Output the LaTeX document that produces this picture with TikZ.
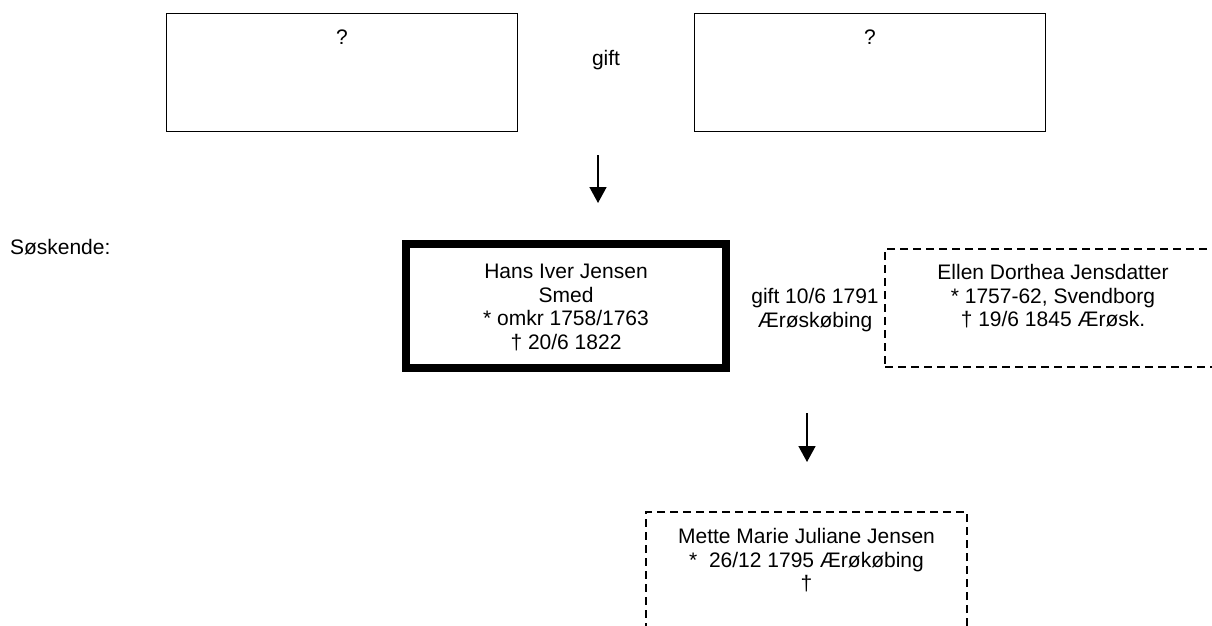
\documentclass[tikz,border=0pt]{standalone}
\usepackage{fontspec}
\setmainfont{Liberation Sans}
\usetikzlibrary{arrows.meta}
\tikzset{
  txt/.style={font=\fontsize{21}{23.5}\selectfont, align=center, inner sep=0pt, outer sep=0pt},
  thinbox/.style={draw, line width=1.6pt, inner sep=0pt, outer sep=0pt},
  thickbox/.style={draw, line width=8pt, inner sep=0pt, outer sep=0pt},
  dashbox/.style={draw, line width=1.6pt, dash pattern=on 8pt off 5pt, inner sep=0pt, outer sep=0pt},
  descarrow/.style={line width=1.6pt, -{Triangle[width=17pt,length=16pt]}}
}
\begin{document}
\begin{tikzpicture}[x=1pt,y=-1pt]
\useasboundingbox (0,0) rectangle (1212,626);
\clip (0,0) rectangle (1212,626);
\fill[white] (0,0) rectangle (1212,626);
% parents
\node[thinbox, minimum width=351pt, minimum height=118pt] (fa) at (342,72.5) {};
\node[txt, anchor=north] (fat) at (342,29.5) {?};
\node[thinbox, minimum width=351pt, minimum height=118pt] (mo) at (870,72.5) {};
\node[txt, anchor=north] (mot) at (870,29.5) {?};
\node[txt] (gift1) at (606,60) {gift};
% arrow 1
\coordinate (a1s) at (598,155);
\coordinate (a1e) at (598,203);
\draw[descarrow] (a1s) -- (a1e);
% siblings label
\node[txt, anchor=west] (sosk) at (10,247) {Søskende:};
% main person
\node[thickbox, minimum width=320pt, minimum height=124pt] (hans) at (566,306) {};
\node[txt, anchor=north] (hanst) at (566,264.5) {Hans Iver Jensen\\Smed\\* omkr 1758/1763\\† 20/6 1822};
% marriage
\node[txt, anchor=north] (gift2) at (815,288.5) {gift 10/6 1791\\Ærøskøbing};
% spouse
\node[dashbox, minimum width=336pt, minimum height=118pt] (ellen) at (1053,308) {};
\node[txt, anchor=north] (ellent) at (1053,264.5) {Ellen Dorthea Jensdatter\\* 1757-62, Svendborg\\† 19/6 1845 Ærøsk.};
% arrow 2
\coordinate (a2s) at (807,413);
\coordinate (a2e) at (807,462);
\draw[descarrow] (a2s) -- (a2e);
% child
\node[dashbox, minimum width=321pt, minimum height=118pt] (mette) at (806.5,571) {};
\node[txt, anchor=north] (mettet) at (806.5,528.5) {Mette Marie Juliane Jensen\\*\ \ 26/12 1795 Ærøkøbing\\†};
\end{tikzpicture}
\end{document}
